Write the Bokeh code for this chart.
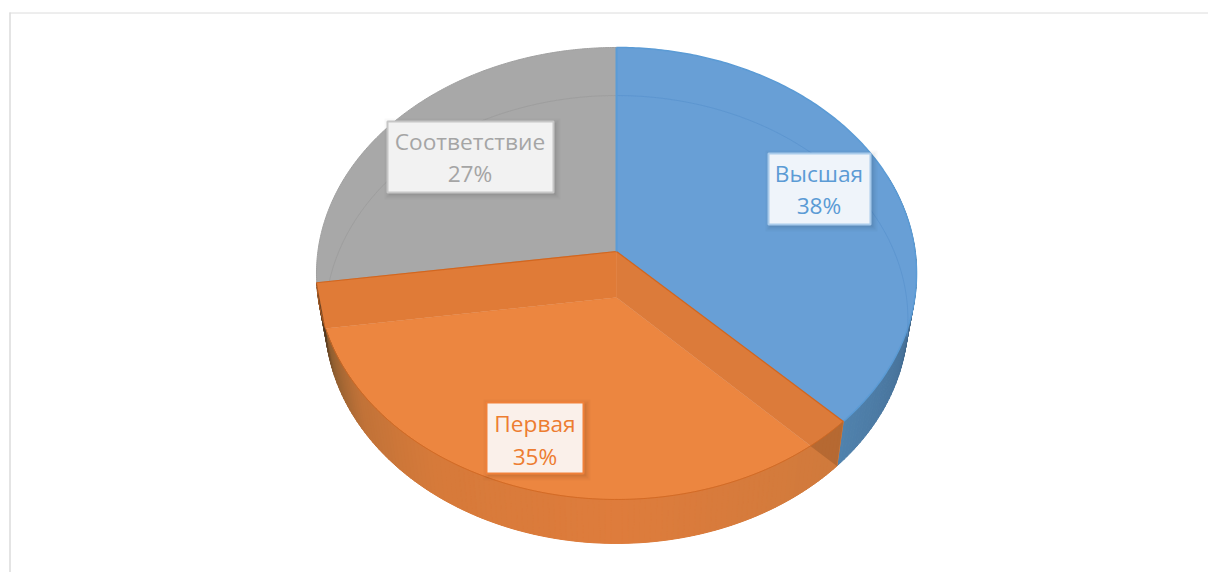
import numpy as np
from bokeh.plotting import figure
from bokeh.embed import file_html
from bokeh.resources import INLINE
from bokeh.core.properties import value

categories = ["Высшая", "Первая", "Соответствие"]
shares = [37.5, 35.3, 27.2]
pct_labels = ["38%", "35%", "27%"]
colors = ["#689FD6", "#EC8640", "#A8A8A8"]
text_colors = ["#5B9BD5", "#ED7D31", "#A5A5A5"]

W, H = 1208, 572
p = figure(width=W, height=H, x_range=(0, W), y_range=(0, H),
           output_backend="svg", toolbar_location=None, min_border=0,
           background_fill_color="white", border_fill_color="white")
p.axis.visible = False
p.grid.visible = False
p.outline_line_color = None

CX = 616.0
Y = lambda py: H - py

# perspective projection of the disc: (k, a, b, c)
TOP = dict(k=298.6, a=255.1, b=Y(251), c=0.0973)
LOW = dict(k=290.0, a=248.8, b=Y(297), c=0.0982)


def proj(deg, plane):
    t = np.radians(np.asarray(deg, dtype=float))
    u, v = np.sin(t), np.cos(t)
    d = 1 + plane["c"] * v
    return CX + plane["k"] * u / d, (plane["a"] * v + plane["b"]) / d


def apex(plane):
    return [CX], [plane["b"]]


def sector(a0, a1, plane):
    th = np.linspace(a0, a1, 200)
    x, y = proj(th, plane)
    ax, ay = apex(plane)
    return ax + list(x), ay + list(y)


bounds = np.cumsum([0] + shares) * 3.6
b_blue = (bounds[0], bounds[1])
b_orange = (bounds[1], bounds[2])
b_gray = (bounds[2], bounds[3])


def hex_rgb(h):
    return np.array([int(h[i:i + 2], 16) for i in (1, 3, 5)], dtype=float)


def ramp(th, stops):
    ts = [s[0] for s in stops]
    cs = np.array([hex_rgb(s[1]) for s in stops])
    rgb = [np.interp(th, ts, cs[:, i]) for i in range(3)]
    return "#%02x%02x%02x" % tuple(int(round(c)) for c in rgb)


def wall(a0, a1, stops):
    th = np.arange(a0, a1, 1.0)
    th = np.append(th, a1)
    xs, ys, cs = [], [], []
    for t0, t1 in zip(th[:-1], th[1:]):
        xt, yt = proj([t0, t1], TOP)
        xl, yl = proj([t1, t0], LOW)
        xs.append(list(xt) + list(xl))
        ys.append(list(yt) + list(yl))
        cs.append(ramp((t0 + t1) / 2, stops))
    p.patches(xs, ys, fill_color=cs, line_color=cs, line_width=1)


# frame of the picture
p.line([9.5, 9.5], [Y(12), Y(572)], line_color="#E4E4E4", line_width=2)
p.line([9, 1208], [Y(12.5), Y(12.5)], line_color="#DCDCDC", line_width=1)

# blue: wall then face
wall(70, b_blue[1], [(70, "#1F3347"), (92, "#2F4A62"), (110, "#47729A"), (135, "#5082AD")])
x, y = sector(*b_blue, TOP)
p.patch(x, y, fill_color=colors[0], line_color="#5B9BD5", line_width=1.5)

# gray face
x, y = sector(*b_gray, TOP)
p.patch(x, y, fill_color=colors[2], line_color="#A0A0A0", line_width=1)

# faint far rim seen through the faces
x, y = proj(np.linspace(b_gray[0] + 1, 360, 150), LOW)
p.line(x, y, line_color="#979797", line_alpha=0.6, line_width=1)
x, y = proj(np.linspace(0, 100, 150), LOW)
p.line(x, y, line_color="#5A93CE", line_alpha=0.8, line_width=1)

# orange floor
x, y = sector(*b_orange, LOW)
p.patch(x, y, fill_color=colors[1], line_color=None)

# inner bands from the raised centre to the floor
xt0, yt0 = proj(b_orange[0], TOP)
xl0, yl0 = proj(b_orange[0], LOW)
p.patch([CX, CX, float(xl0), float(xt0)], [TOP["b"], LOW["b"], float(yl0), float(yt0)],
        fill_color="#DC7B3A", line_color="#DC7B3A", line_width=0.5)

# orange wall
wall(b_orange[0], b_orange[1], [(135, "#CF7A3C"), (180, "#DE7C3C"), (215, "#D67A3A"),
                                (235, "#C07238"), (250, "#8F5E30"), (262, "#4A3520")])

# darker overlap where the right band crosses the wall
th = np.linspace(b_orange[0], b_orange[0] + 30, 300)
rx, ry = proj(th, TOP)
side = (rx - CX) * (float(yl0) - LOW["b"]) - (ry - LOW["b"]) * (float(xl0) - CX)
cross = th[np.argmin(np.abs(side[1:])) + 1]
ax_, ay_ = proj(np.linspace(b_orange[0], cross, 30), TOP)
p.patch(list(ax_) + [float(xl0)], list(ay_) + [float(yl0)], fill_color="#8F4F22", fill_alpha=0.4, line_color=None)

xt1, yt1 = proj(b_orange[1], TOP)
xl1, yl1 = proj(b_orange[1], LOW)
p.patch([CX, CX, float(xl1), float(xt1)], [TOP["b"], LOW["b"], float(yl1), float(yt1)],
        fill_color="#E07B37", line_color="#E07B37", line_width=0.5)

# orange rim and seams
x, y = proj(np.linspace(*b_orange, 200), TOP)
p.line(x, y, line_color="#D2661F", line_alpha=0.8, line_width=1)
for a in (b_orange[0], b_orange[1]):
    xe, ye = proj(a, TOP)
    p.line([CX, float(xe)], [TOP["b"], float(ye)], line_color="#D2661F", line_width=1.2)
xe, ye = proj(0, TOP)
p.line([CX, CX], [TOP["b"], float(ye)], line_color="#5B9BD5", line_width=2)

# data labels
boxes = [(768, 870, 153, 224, "#EFF4FA", "#A9CBEB", 818.5, 173, 205),
         (486, 583, 402, 473, "#FAF0EA", "#F0813A", 534.5, 423, 456),
         (387, 553, 121, 192, "#F2F2F2", "#C6C6C6", 469.5, 141, 173)]
for i, (x0, x1, y0, y1, fill, edge, tx, ty1, ty2) in enumerate(boxes):
    for grow, alpha in ((5, 0.025), (3, 0.035), (1, 0.05)):
        p.quad(left=[x0 + 2 - grow], right=[x1 + 2 + grow], top=[Y(y0 + 2 - grow)], bottom=[Y(y1 + 2 + grow)],
               fill_color="#000000", fill_alpha=alpha, line_color=None)
    p.quad(left=[x0], right=[x1], top=[Y(y0)], bottom=[Y(y1)],
           fill_color=fill, line_color=edge, line_width=2)
    p.text([tx], [Y(ty1)], text=[categories[i]], text_font=value("Open Sans"), text_font_size="22.7px",
           text_color=text_colors[i], text_align="center", text_baseline="middle")
    p.text([tx], [Y(ty2)], text=[pct_labels[i]], text_font=value("Open Sans"), text_font_size="22.7px",
           text_color=text_colors[i], text_align="center", text_baseline="middle")

open("out.html", "w").write(file_html(p, INLINE))
